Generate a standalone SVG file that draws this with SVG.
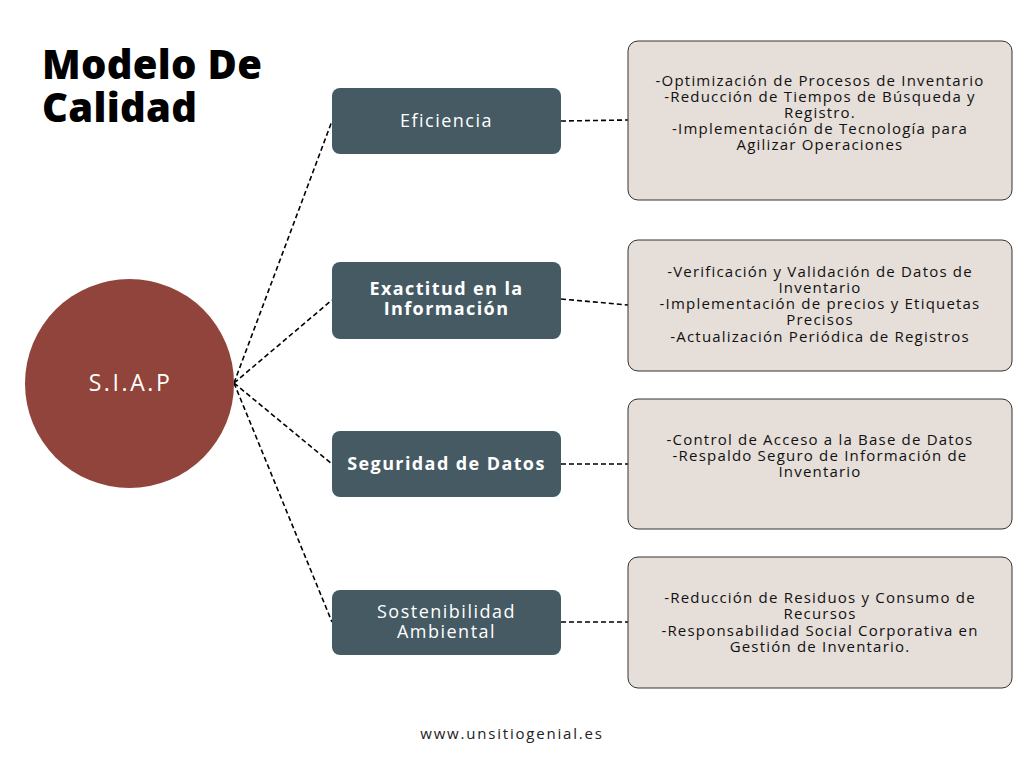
<svg xmlns="http://www.w3.org/2000/svg" width="1024" height="768" viewBox="0 0 1024 768">
<style>
.t{font-family:"Open Sans","DejaVu Sans",sans-serif}
.title{font-family:"Open Sans","DejaVu Sans",sans-serif;font-weight:800;font-size:40px;fill:#000;letter-spacing:0.3px}
.lbl{font-family:"Open Sans","DejaVu Sans",sans-serif;font-size:18px;fill:#fff;text-anchor:middle;letter-spacing:1.5px}
.lblb{font-family:"Open Sans","DejaVu Sans",sans-serif;font-size:18px;fill:#fff;text-anchor:middle;letter-spacing:1.4px;font-weight:700}
.body{font-family:"Open Sans","DejaVu Sans",sans-serif;font-size:15px;fill:#111;text-anchor:middle;letter-spacing:1.2px}
.node{fill:#455a63;}
.det{fill:#e5ded9;stroke:#333;stroke-width:1}
.con{stroke:#000;stroke-width:1.6;stroke-dasharray:5 3;fill:none}
</style>
<rect width="1024" height="768" fill="#fff"/>
<g id="title">
<text class="title" x="42" y="79">Modelo De</text>
<text class="title" x="42" y="122">Calidad</text>
</g>
<g id="connectors">
<line class="con" x1="234" y1="383" x2="332" y2="121"/>
<line class="con" x1="234" y1="383" x2="332" y2="300"/>
<line class="con" x1="234" y1="383" x2="332" y2="464"/>
<line class="con" x1="234" y1="383" x2="332" y2="622"/>
<line class="con" x1="561" y1="121" x2="628" y2="120"/>
<line class="con" x1="561" y1="299" x2="628" y2="305"/>
<line class="con" x1="561" y1="464" x2="628" y2="464"/>
<line class="con" x1="561" y1="622" x2="628" y2="622"/>
</g>
<g id="siap">
<circle cx="129.5" cy="383.5" r="104.5" fill="#91443b"/>
<text class="t" x="130.5" y="391" font-size="23" fill="#fff" text-anchor="middle" letter-spacing="2.6">S.I.A.P</text>
</g>
<g id="eficiencia">
<rect class="node" x="332" y="88" width="229" height="66" rx="8"/>
<text class="lbl" x="446.5" y="127">Eficiencia</text>
</g>
<g id="exactitud">
<rect class="node" x="332" y="262" width="229" height="77" rx="8"/>
<text class="lblb" x="446.5" y="295">Exactitud en la</text>
<text class="lblb" x="446.5" y="315">Información</text>
</g>
<g id="seguridad">
<rect class="node" x="332" y="431" width="229" height="66" rx="8"/>
<text class="lblb" x="446.5" y="470">Seguridad de Datos</text>
</g>
<g id="sostenibilidad">
<rect class="node" x="332" y="590" width="229" height="65" rx="8"/>
<text class="lbl" x="446.5" y="618">Sostenibilidad</text>
<text class="lbl" x="446.5" y="638">Ambiental</text>
</g>
<g id="det-eficiencia">
<rect class="det" x="628" y="41" width="384" height="159" rx="10"/>
<text class="body" x="820" y="86">-Optimización de Procesos de Inventario</text>
<text class="body" x="820" y="102">-Reducción de Tiempos de Búsqueda y</text>
<text class="body" x="820" y="118">Registro.</text>
<text class="body" x="820" y="134">-Implementación de Tecnología para</text>
<text class="body" x="820" y="150">Agilizar Operaciones</text>
</g>
<g id="det-exactitud">
<rect class="det" x="628" y="240" width="384" height="131" rx="10"/>
<text class="body" x="820" y="277">-Verificación y Validación de Datos de</text>
<text class="body" x="820" y="293">Inventario</text>
<text class="body" x="820" y="309">-Implementación de precios y Etiquetas</text>
<text class="body" x="820" y="325">Precisos</text>
<text class="body" x="820" y="342">-Actualización Periódica de Registros</text>
</g>
<g id="det-seguridad">
<rect class="det" x="628" y="399" width="384" height="130" rx="10"/>
<text class="body" x="820" y="445">-Control de Acceso a la Base de Datos</text>
<text class="body" x="820" y="461">-Respaldo Seguro de Información de</text>
<text class="body" x="820" y="477">Inventario</text>
</g>
<g id="det-sostenibilidad">
<rect class="det" x="628" y="557" width="384" height="131" rx="10"/>
<text class="body" x="820" y="603">-Reducción de Residuos y Consumo de</text>
<text class="body" x="820" y="619">Recursos</text>
<text class="body" x="820" y="636">-Responsabilidad Social Corporativa en</text>
<text class="body" x="820" y="652">Gestión de Inventario.</text>
</g>
<g id="footer">
<text class="t" x="512" y="739" font-size="15" fill="#222" text-anchor="middle" letter-spacing="1.8">www.unsitiogenial.es</text>
</g>
</svg>
